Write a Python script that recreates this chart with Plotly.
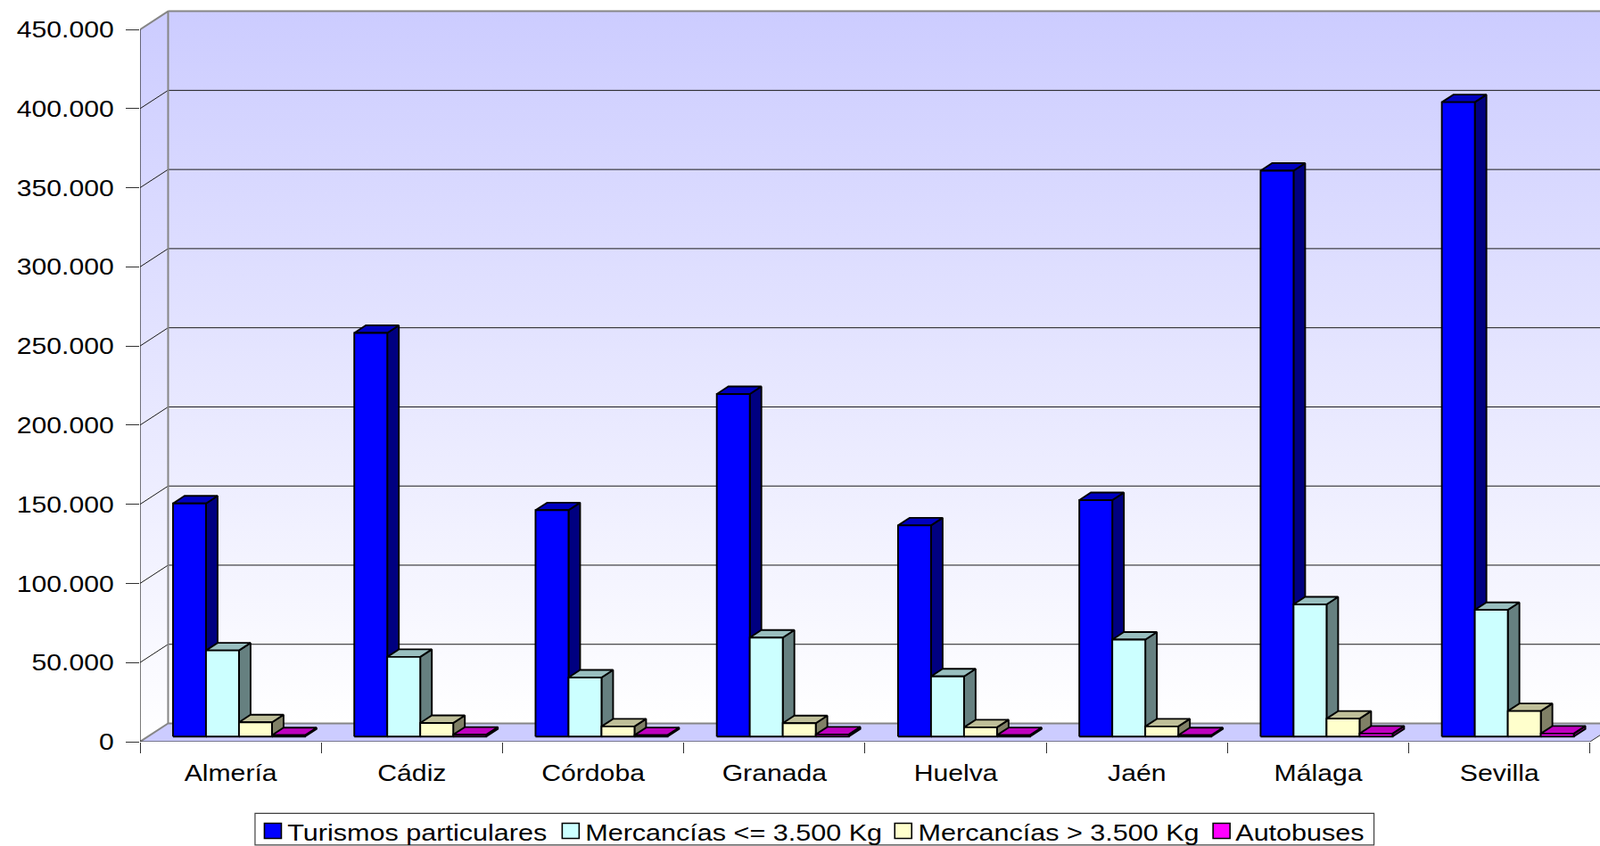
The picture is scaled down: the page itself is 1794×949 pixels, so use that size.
import plotly.graph_objects as go

# ---------- data ----------
provincias = ["Almería", "Cádiz", "Córdoba", "Granada", "Huelva", "Jaén", "Málaga", "Sevilla"]
turismos = [147300, 255000, 143000, 216400, 133400, 149400, 357500, 400800]
merc_ligeras = [54400, 50300, 37300, 62500, 38000, 61200, 83500, 80000]
merc_pesadas = [9000, 8600, 6400, 8400, 5800, 6400, 11300, 16100]
autobuses = [800, 1200, 900, 1300, 900, 800, 1900, 1900]
y_ticks = [0, 50000, 100000, 150000, 200000, 250000, 300000, 350000, 400000, 450000]
y_labels = ["0", "50.000", "100.000", "150.000", "200.000", "250.000", "300.000", "350.000", "400.000", "450.000"]

series = [
    ("Turismos particulares", turismos, "#0000FF", "#000080", "#0000C0"),
    ("Mercancías <= 3.500 Kg", merc_ligeras, "#CCFFFF", "#668080", "#99BFBF"),
    ("Mercancías > 3.500 Kg", merc_pesadas, "#FFFFCC", "#808066", "#BFBF99"),
    ("Autobuses", autobuses, "#FF00FF", "#800080", "#BF00BF"),
]

# ---------- frame ----------
W, H = 1794, 949
L, B = 156.5, 116.5
AX_BOTTOM = H - B
CAT_PX = 203.3
VAL_PX = 799.4 / 450000
x_per_px = 1 / CAT_PX
y_per_px = 1 / VAL_PX
xmax = (W - L) * x_per_px
ymax = AX_BOTTOM * y_per_px

WALL_DX, WALL_DY = 31.5 * x_per_px, 20.5 * y_per_px
BAR_W = 37.0 * x_per_px
BAR_START = 37.0 * x_per_px
BASE_DY = 5.8 * y_per_px
BAR_DX, BAR_DY = 13.0 * x_per_px, 8.5 * y_per_px
TOP = 450000
WALL_R = 8 + WALL_DX

fig = go.Figure()


def poly(xs, ys, fill=None, line=None, width=1, grad=None, name=None):
    kw = dict(x=xs, y=ys, mode="lines", showlegend=False, hoverinfo="skip",
              line=dict(color=line or "rgba(0,0,0,0)", width=width if line else 0))
    if name:
        kw["name"] = name
    if fill or grad:
        kw["fill"] = "toself"
    if fill:
        kw["fillcolor"] = fill
    if grad:
        kw["fillgradient"] = grad
    fig.add_trace(go.Scatter(**kw))


grad = dict(type="vertical", colorscale=[[0, "#FFFFFF"], [1, "#CCCCFF"]])
# back wall, side wall, floor
poly([WALL_DX, WALL_R, WALL_R, WALL_DX, WALL_DX],
     [WALL_DY, WALL_DY, TOP + WALL_DY, TOP + WALL_DY, WALL_DY], grad=grad)
poly([0, WALL_DX, WALL_DX, 0, 0], [0, WALL_DY, TOP + WALL_DY, TOP, 0], grad=grad)
poly([0, 8, WALL_R, WALL_DX, 0], [0, 0, WALL_DY, WALL_DY, 0], fill="#CCCCFF")

# gridlines
gx, gy = [], []
for v in y_ticks[1:-1]:
    gx += [0, WALL_DX, WALL_R, None]
    gy += [v, v + WALL_DY, v + WALL_DY, None]
poly(gx, gy, line="#1a1a1a", width=1)
# wall borders
poly([0, WALL_DX, WALL_DX], [TOP, TOP + WALL_DY, WALL_DY], line="#868686", width=2)
poly([WALL_DX, WALL_R], [TOP + WALL_DY, TOP + WALL_DY], line="#868686", width=2)
poly([0, WALL_DX, WALL_R], [0, WALL_DY, WALL_DY], line="#868686", width=2)
poly([8, WALL_R], [0, WALL_DY], line="#303030", width=1)
# front axis lines
poly([0, 8], [0, 0], line="#202020", width=1.2)
poly([0, 0], [0, TOP], line="#202020", width=1.2)

# bars
for j, (name, vals, c_front, c_side, c_top) in enumerate(series):
    fx, fy, sx, sy, tx, ty = [], [], [], [], [], []
    for i, v in enumerate(vals):
        x0 = i + BAR_START + j * BAR_W
        x1 = x0 + BAR_W
        y0 = BASE_DY
        y1 = BASE_DY + v
        fx += [x0, x1, x1, x0, x0, None]
        fy += [y0, y0, y1, y1, y0, None]
        sx += [x1, x1 + BAR_DX, x1 + BAR_DX, x1, x1, None]
        sy += [y0, y0 + BAR_DY, y1 + BAR_DY, y1, y0, None]
        tx += [x0, x1, x1 + BAR_DX, x0 + BAR_DX, x0, None]
        ty += [y1, y1, y1 + BAR_DY, y1 + BAR_DY, y1, None]
    poly(sx, sy, fill=c_side, line="#000000", width=1.9)
    poly(tx, ty, fill=c_top, line="#000000", width=1.9)
    poly(fx, fy, fill=c_front, line="#000000", width=1.9, name=name)

FONT = "Liberation Sans, Arial, sans-serif"
FS = 26

fig.update_layout(
    width=W, height=H, autosize=False,
    margin=dict(l=L, r=0, t=0, b=B, pad=0),
    paper_bgcolor="white", plot_bgcolor="white",
    font=dict(family=FONT, size=FS, color="#000000"),
    showlegend=False,
    xaxis=dict(range=[0, xmax], showgrid=False, zeroline=False, showline=False,
               tickmode="array", tickvals=[i + 0.5 for i in range(8)], ticktext=provincias,
               ticks="", ticklabelstandoff=17,
               minor=dict(tickmode="array", tickvals=list(range(9)), ticks="outside",
                          ticklen=12, tickwidth=1, tickcolor="#303030"),
               tickfont=dict(size=FS)),
    yaxis=dict(range=[0, ymax], showgrid=False, zeroline=False, showline=False,
               tickmode="array", tickvals=y_ticks, ticktext=y_labels,
               ticks="outside", ticklen=15, tickwidth=1, tickcolor="#303030",
               ticklabelstandoff=8, tickfont=dict(size=FS)),
)


# legend drawn in page pixels
def px(xp):
    return (xp - L) / (W - L)


def py(yp):
    return (AX_BOTTOM - yp) / AX_BOTTOM


fig.add_shape(type="rect", xref="paper", yref="paper", x0=px(285.5), x1=px(1540.5),
              y0=py(948.5), y1=py(913), line=dict(color="#404040", width=1.2),
              fillcolor="white")
swatch_x = [296, 630, 1003, 1360]
text_center = [467.8, 822, 1187, 1457.6]
for (name, _, c_front, _, _), sx_, tx_ in zip(series, swatch_x, text_center):
    fig.add_shape(type="rect", xref="paper", yref="paper", x0=px(sx_), x1=px(sx_ + 19),
                  y0=py(941), y1=py(924), line=dict(color="#000000", width=1.6),
                  fillcolor=c_front)
    fig.add_annotation(text=name, xref="paper", yref="paper", x=px(tx_), y=py(934.2),
                       xanchor="center", yanchor="middle", showarrow=False,
                       font=dict(size=FS, family=FONT, color="#000000"))

# the reference's type is Arial drawn about 16% wider than normal
stretch_js = """
document.body.style.margin='0';document.body.style.overflow='hidden';
function widen(){
  document.querySelectorAll('.xtick text,.ytick text,.annotation-text').forEach(function(t){
    if(!t.dataset.len){t.dataset.len=t.getComputedTextLength();}
    var k=t.classList.contains('annotation-text')?1.175:1.16;
    t.setAttribute('lengthAdjust','spacingAndGlyphs');
    t.setAttribute('textLength',parseFloat(t.dataset.len)*k);
  });
}
widen();setTimeout(widen,50);setTimeout(widen,300);
"""
fig.write_html("out.html", post_script=stretch_js, config={"displayModeBar": False})
